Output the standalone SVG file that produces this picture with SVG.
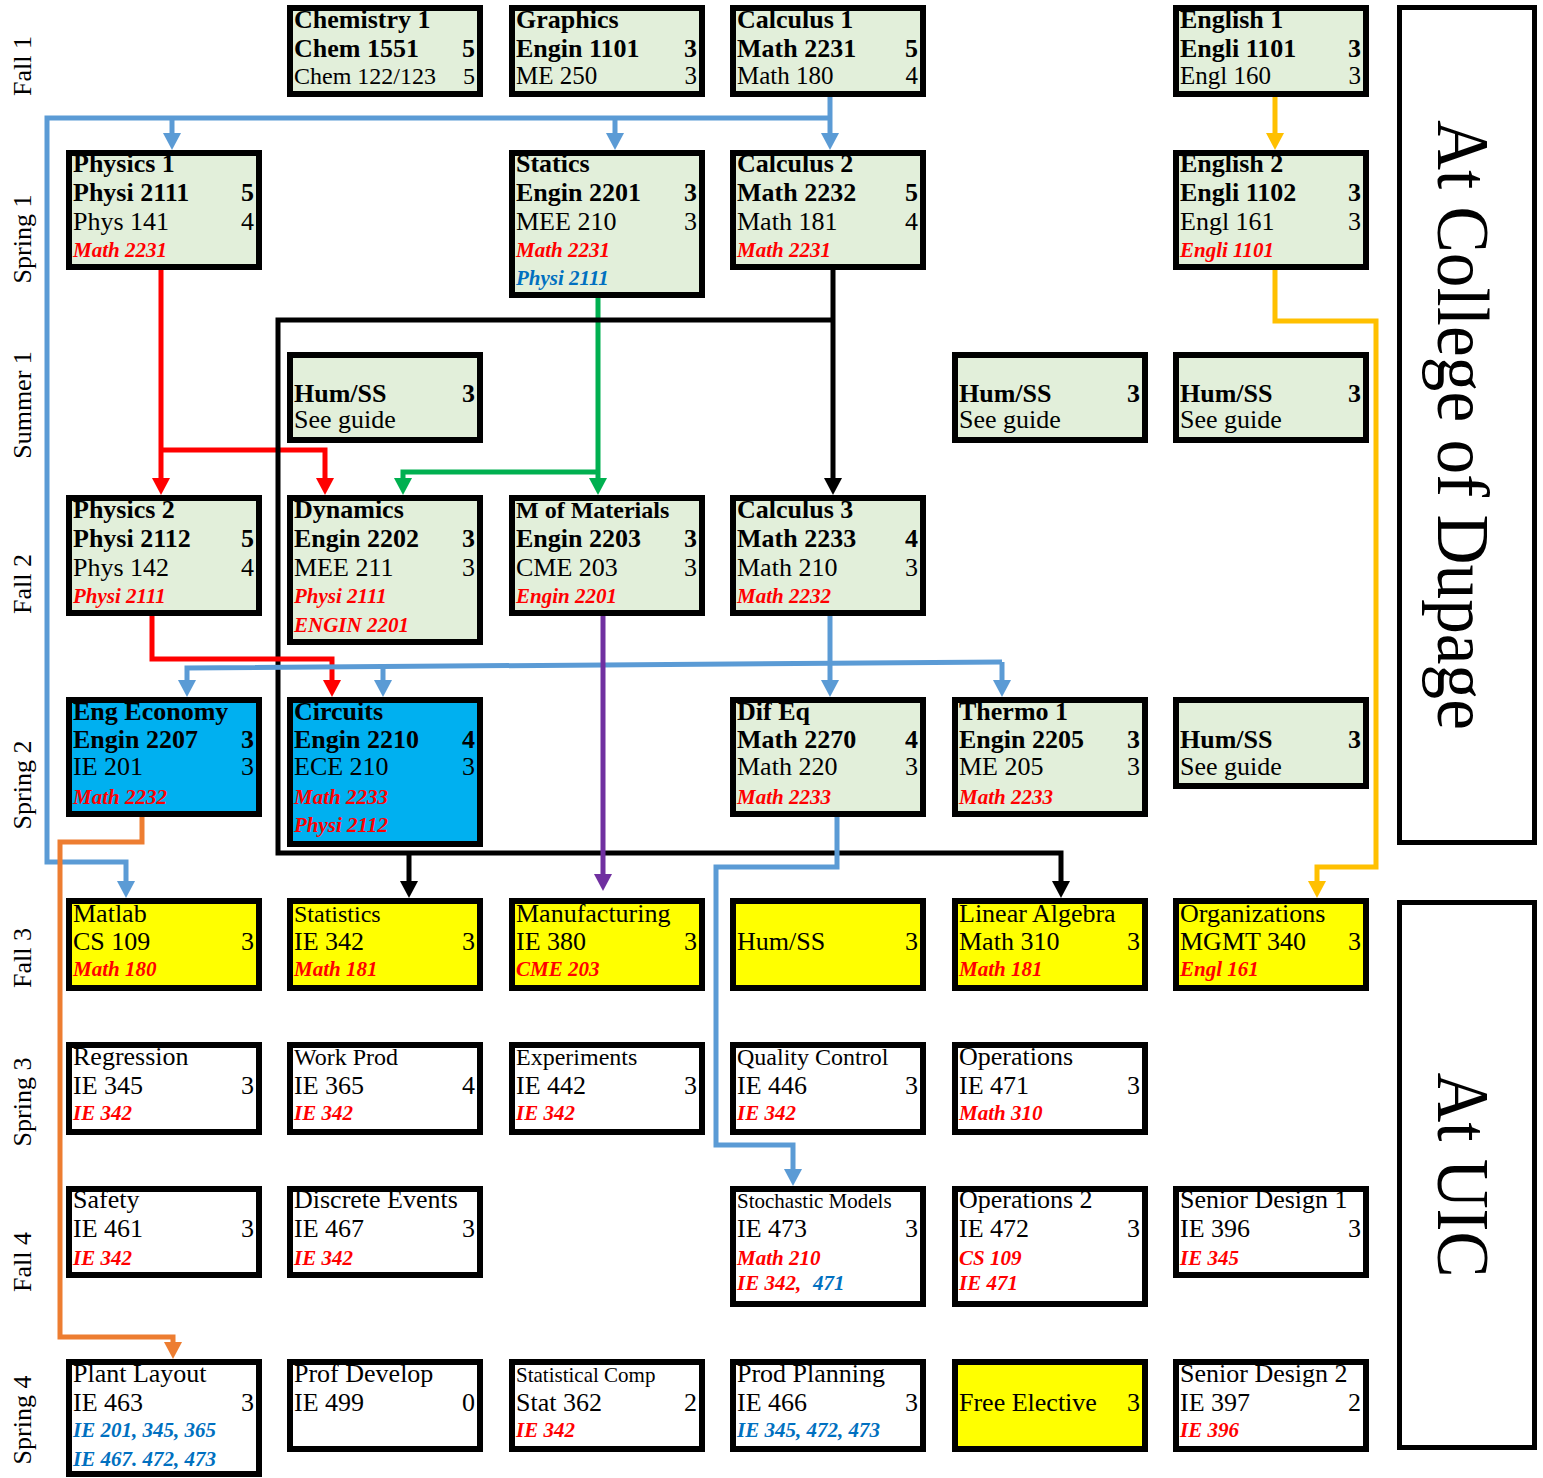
<svg xmlns="http://www.w3.org/2000/svg" width="1543" height="1478" viewBox="0 0 1543 1478">
<defs>
<style>
text{font-family:"Liberation Serif","Times New Roman",serif;fill:#000}
.g{fill:#E2EFDA;stroke:#000;stroke-width:6}
.bl{fill:#00B0F0;stroke:#000;stroke-width:6}
.y{fill:#FFFF00;stroke:#000;stroke-width:6}
.w{fill:#FFFFFF;stroke:#000;stroke-width:6}
.lab{fill:#FFFFFF;stroke:#000;stroke-width:5}
.h{font-size:26px;font-weight:bold}
.r{font-size:26px}
.r5{font-size:25px}
.s{font-size:24px}
.xs{font-size:21px}
.n{text-anchor:end}
.p{font-size:21px;font-weight:bold;font-style:italic;fill:#FF0000}
.q{font-size:21px;font-weight:bold;font-style:italic;fill:#0070C0}
.sem{font-size:26px;text-anchor:middle}
.big{font-size:75px;text-anchor:middle}
.ln{fill:none;stroke-width:5;stroke-linejoin:miter}
.cb{stroke:#5B9BD5}
.cr{stroke:#FF0000}
.cg{stroke:#00B050}
.ck{stroke:#000000}
.co{stroke:#ED7D31}
.cy{stroke:#FFC000}
.cp{stroke:#7030A0}
</style>
<marker id="aB" markerUnits="userSpaceOnUse" markerWidth="17" markerHeight="18" viewBox="0 0 17 18" refX="0" refY="9" orient="auto"><path d="M0,0 L17,9 L0,18 z" fill="#5B9BD5"/></marker>
<marker id="aR" markerUnits="userSpaceOnUse" markerWidth="17" markerHeight="18" viewBox="0 0 17 18" refX="0" refY="9" orient="auto"><path d="M0,0 L17,9 L0,18 z" fill="#FF0000"/></marker>
<marker id="aG" markerUnits="userSpaceOnUse" markerWidth="17" markerHeight="18" viewBox="0 0 17 18" refX="0" refY="9" orient="auto"><path d="M0,0 L17,9 L0,18 z" fill="#00B050"/></marker>
<marker id="aK" markerUnits="userSpaceOnUse" markerWidth="17" markerHeight="18" viewBox="0 0 17 18" refX="0" refY="9" orient="auto"><path d="M0,0 L17,9 L0,18 z" fill="#000000"/></marker>
<marker id="aO" markerUnits="userSpaceOnUse" markerWidth="17" markerHeight="18" viewBox="0 0 17 18" refX="0" refY="9" orient="auto"><path d="M0,0 L17,9 L0,18 z" fill="#ED7D31"/></marker>
<marker id="aY" markerUnits="userSpaceOnUse" markerWidth="17" markerHeight="18" viewBox="0 0 17 18" refX="0" refY="9" orient="auto"><path d="M0,0 L17,9 L0,18 z" fill="#FFC000"/></marker>
<marker id="aP" markerUnits="userSpaceOnUse" markerWidth="17" markerHeight="18" viewBox="0 0 17 18" refX="0" refY="9" orient="auto"><path d="M0,0 L17,9 L0,18 z" fill="#7030A0"/></marker>
</defs>
<rect x="0" y="0" width="1543" height="1478" fill="#FFFFFF"/>

<g id="semesters">
<text class="sem" transform="translate(31,66) rotate(-90)">Fall 1</text>
<text class="sem" transform="translate(31,239) rotate(-90)">Spring 1</text>
<text class="sem" transform="translate(31,405) rotate(-90)">Summer 1</text>
<text class="sem" transform="translate(31,584) rotate(-90)">Fall 2</text>
<text class="sem" transform="translate(31,785) rotate(-90)">Spring 2</text>
<text class="sem" transform="translate(31,958) rotate(-90)">Fall 3</text>
<text class="sem" transform="translate(31,1102) rotate(-90)">Spring 3</text>
<text class="sem" transform="translate(31,1262) rotate(-90)">Fall 4</text>
<text class="sem" transform="translate(31,1420) rotate(-90)">Spring 4</text>
</g>

<g id="label-cod">
<rect class="lab" x="1399.5" y="7.5" width="135" height="835"/>
<text class="big" transform="translate(1438,425) rotate(90)" textLength="610" lengthAdjust="spacingAndGlyphs">At College of Dupage</text>
</g>
<g id="label-uic">
<rect class="lab" x="1399.5" y="902.5" width="135" height="545"/>
<text class="big" transform="translate(1438,1175) rotate(90)" textLength="205" lengthAdjust="spacingAndGlyphs">At UIC</text>
</g>

<!-- Fall 1 -->
<g id="chemistry1">
<rect class="g" x="290" y="8" width="190" height="86"/>
<text class="h" x="294" y="28">Chemistry 1</text>
<text class="h" x="294" y="57">Chem 1551</text><text class="h n" x="475" y="57">5</text>
<text class="s" x="294" y="84">Chem 122/123</text><text class="s n" x="475" y="84">5</text>
</g>
<g id="graphics">
<rect class="g" x="512" y="8" width="190" height="86"/>
<text class="h" x="516" y="28">Graphics</text>
<text class="h" x="516" y="57">Engin 1101</text><text class="h n" x="697" y="57">3</text>
<text class="r5" x="516" y="84">ME 250</text><text class="r5 n" x="697" y="84">3</text>
</g>
<g id="calculus1">
<rect class="g" x="733" y="8" width="190" height="86"/>
<text class="h" x="737" y="28">Calculus 1</text>
<text class="h" x="737" y="57">Math 2231</text><text class="h n" x="918" y="57">5</text>
<text class="r5" x="737" y="84">Math 180</text><text class="r5 n" x="918" y="84">4</text>
</g>
<g id="english1">
<rect class="g" x="1176" y="8" width="190" height="86"/>
<text class="h" x="1180" y="28">English 1</text>
<text class="h" x="1180" y="57">Engli 1101</text><text class="h n" x="1361" y="57">3</text>
<text class="r5" x="1180" y="84">Engl 160</text><text class="r5 n" x="1361" y="84">3</text>
</g>

<!-- Spring 1 -->
<g id="physics1">
<rect class="g" x="69" y="153" width="190" height="114"/>
<text class="h" x="73" y="172">Physics 1</text>
<text class="h" x="73" y="201">Physi 2111</text><text class="h n" x="254" y="201">5</text>
<text class="r" x="73" y="230">Phys 141</text><text class="r n" x="254" y="230">4</text>
<text class="p" x="73" y="257">Math 2231</text>
</g>
<g id="statics">
<rect class="g" x="512" y="153" width="190" height="142"/>
<text class="h" x="516" y="172">Statics</text>
<text class="h" x="516" y="201">Engin 2201</text><text class="h n" x="697" y="201">3</text>
<text class="r" x="516" y="230">MEE 210</text><text class="r n" x="697" y="230">3</text>
<text class="p" x="516" y="257">Math 2231</text>
<text class="q" x="516" y="285">Physi 2111</text>
</g>
<g id="calculus2">
<rect class="g" x="733" y="153" width="190" height="114"/>
<text class="h" x="737" y="172">Calculus 2</text>
<text class="h" x="737" y="201">Math 2232</text><text class="h n" x="918" y="201">5</text>
<text class="r" x="737" y="230">Math 181</text><text class="r n" x="918" y="230">4</text>
<text class="p" x="737" y="257">Math 2231</text>
</g>
<g id="english2">
<rect class="g" x="1176" y="153" width="190" height="114"/>
<text class="h" x="1180" y="172">English 2</text>
<text class="h" x="1180" y="201">Engli 1102</text><text class="h n" x="1361" y="201">3</text>
<text class="r" x="1180" y="230">Engl 161</text><text class="r n" x="1361" y="230">3</text>
<text class="p" x="1180" y="257">Engli 1101</text>
</g>

<!-- Summer 1 -->
<g id="humss-summer-a">
<rect class="g" x="290" y="355" width="190" height="85"/>
<text class="h" x="294" y="402">Hum/SS</text><text class="h n" x="475" y="402">3</text>
<text class="r" x="294" y="428">See guide</text>
</g>
<g id="humss-summer-b">
<rect class="g" x="955" y="355" width="190" height="85"/>
<text class="h" x="959" y="402">Hum/SS</text><text class="h n" x="1140" y="402">3</text>
<text class="r" x="959" y="428">See guide</text>
</g>
<g id="humss-summer-c">
<rect class="g" x="1176" y="355" width="190" height="85"/>
<text class="h" x="1180" y="402">Hum/SS</text><text class="h n" x="1361" y="402">3</text>
<text class="r" x="1180" y="428">See guide</text>
</g>

<!-- Fall 2 -->
<g id="physics2">
<rect class="g" x="69" y="498" width="190" height="115"/>
<text class="h" x="73" y="518">Physics 2</text>
<text class="h" x="73" y="547">Physi 2112</text><text class="h n" x="254" y="547">5</text>
<text class="r" x="73" y="576">Phys 142</text><text class="r n" x="254" y="576">4</text>
<text class="p" x="73" y="603">Physi 2111</text>
</g>
<g id="dynamics">
<rect class="g" x="290" y="498" width="190" height="144"/>
<text class="h" x="294" y="518">Dynamics</text>
<text class="h" x="294" y="547">Engin 2202</text><text class="h n" x="475" y="547">3</text>
<text class="r" x="294" y="576">MEE 211</text><text class="r n" x="475" y="576">3</text>
<text class="p" x="294" y="603">Physi 2111</text>
<text class="p" x="294" y="632">ENGIN 2201</text>
</g>
<g id="mofmaterials">
<rect class="g" x="512" y="498" width="190" height="115"/>
<text class="h" x="516" y="518" style="font-size:24px">M of Materials</text>
<text class="h" x="516" y="547">Engin 2203</text><text class="h n" x="697" y="547">3</text>
<text class="r" x="516" y="576">CME 203</text><text class="r n" x="697" y="576">3</text>
<text class="p" x="516" y="603">Engin 2201</text>
</g>
<g id="calculus3">
<rect class="g" x="733" y="498" width="190" height="115"/>
<text class="h" x="737" y="518">Calculus 3</text>
<text class="h" x="737" y="547">Math 2233</text><text class="h n" x="918" y="547">4</text>
<text class="r" x="737" y="576">Math 210</text><text class="r n" x="918" y="576">3</text>
<text class="p" x="737" y="603">Math 2232</text>
</g>

<!-- Spring 2 -->
<g id="engeconomy">
<rect class="bl" x="69" y="700" width="190" height="114"/>
<text class="h" x="73" y="720">Eng Economy</text>
<text class="h" x="73" y="748">Engin 2207</text><text class="h n" x="254" y="748">3</text>
<text class="r" x="73" y="775">IE 201</text><text class="r n" x="254" y="775">3</text>
<text class="p" x="73" y="804">Math 2232</text>
</g>
<g id="circuits">
<rect class="bl" x="290" y="700" width="190" height="144"/>
<text class="h" x="294" y="720">Circuits</text>
<text class="h" x="294" y="748">Engin 2210</text><text class="h n" x="475" y="748">4</text>
<text class="r" x="294" y="775">ECE 210</text><text class="r n" x="475" y="775">3</text>
<text class="p" x="294" y="804">Math 2233</text>
<text class="p" x="294" y="832">Physi 2112</text>
</g>
<g id="difeq">
<rect class="g" x="733" y="700" width="190" height="114"/>
<text class="h" x="737" y="720">Dif Eq</text>
<text class="h" x="737" y="748">Math 2270</text><text class="h n" x="918" y="748">4</text>
<text class="r" x="737" y="775">Math 220</text><text class="r n" x="918" y="775">3</text>
<text class="p" x="737" y="804">Math 2233</text>
</g>
<g id="thermo1">
<rect class="g" x="955" y="700" width="190" height="114"/>
<text class="h" x="959" y="720">Thermo 1</text>
<text class="h" x="959" y="748">Engin 2205</text><text class="h n" x="1140" y="748">3</text>
<text class="r" x="959" y="775">ME 205</text><text class="r n" x="1140" y="775">3</text>
<text class="p" x="959" y="804">Math 2233</text>
</g>
<g id="humss-spring2">
<rect class="g" x="1176" y="700" width="190" height="86"/>
<text class="h" x="1180" y="748">Hum/SS</text><text class="h n" x="1361" y="748">3</text>
<text class="r" x="1180" y="775">See guide</text>
</g>

<!-- Fall 3 -->
<g id="matlab">
<rect class="y" x="69" y="901" width="190" height="87"/>
<text class="r" x="73" y="922">Matlab</text>
<text class="r" x="73" y="950">CS 109</text><text class="r n" x="254" y="950">3</text>
<text class="p" x="73" y="976">Math 180</text>
</g>
<g id="statistics">
<rect class="y" x="290" y="901" width="190" height="87"/>
<text class="s" x="294" y="922">Statistics</text>
<text class="r" x="294" y="950">IE 342</text><text class="r n" x="475" y="950">3</text>
<text class="p" x="294" y="976">Math 181</text>
</g>
<g id="manufacturing">
<rect class="y" x="512" y="901" width="190" height="87"/>
<text class="r" x="516" y="922">Manufacturing</text>
<text class="r" x="516" y="950">IE 380</text><text class="r n" x="697" y="950">3</text>
<text class="p" x="516" y="976">CME 203</text>
</g>
<g id="humss-fall3">
<rect class="y" x="733" y="901" width="190" height="87"/>
<text class="r" x="737" y="950">Hum/SS</text><text class="r n" x="918" y="950">3</text>
</g>
<g id="linearalgebra">
<rect class="y" x="955" y="901" width="190" height="87"/>
<text class="r" x="959" y="922">Linear Algebra</text>
<text class="r" x="959" y="950">Math 310</text><text class="r n" x="1140" y="950">3</text>
<text class="p" x="959" y="976">Math 181</text>
</g>
<g id="organizations">
<rect class="y" x="1176" y="901" width="190" height="87"/>
<text class="r" x="1180" y="922">Organizations</text>
<text class="r" x="1180" y="950">MGMT 340</text><text class="r n" x="1361" y="950">3</text>
<text class="p" x="1180" y="976">Engl 161</text>
</g>

<!-- Spring 3 -->
<g id="regression">
<rect class="w" x="69" y="1045" width="190" height="87"/>
<text class="r" x="73" y="1065">Regression</text>
<text class="r" x="73" y="1094">IE 345</text><text class="r n" x="254" y="1094">3</text>
<text class="p" x="73" y="1120">IE 342</text>
</g>
<g id="workprod">
<rect class="w" x="290" y="1045" width="190" height="87"/>
<text class="s" x="294" y="1065">Work Prod</text>
<text class="r" x="294" y="1094">IE 365</text><text class="r n" x="475" y="1094">4</text>
<text class="p" x="294" y="1120">IE 342</text>
</g>
<g id="experiments">
<rect class="w" x="512" y="1045" width="190" height="87"/>
<text class="s" x="516" y="1065">Experiments</text>
<text class="r" x="516" y="1094">IE 442</text><text class="r n" x="697" y="1094">3</text>
<text class="p" x="516" y="1120">IE 342</text>
</g>
<g id="qualitycontrol">
<rect class="w" x="733" y="1045" width="190" height="87"/>
<text class="s" x="737" y="1065">Quality Control</text>
<text class="r" x="737" y="1094">IE 446</text><text class="r n" x="918" y="1094">3</text>
<text class="p" x="737" y="1120">IE 342</text>
</g>
<g id="operations">
<rect class="w" x="955" y="1045" width="190" height="87"/>
<text class="r" x="959" y="1065">Operations</text>
<text class="r" x="959" y="1094">IE 471</text><text class="r n" x="1140" y="1094">3</text>
<text class="p" x="959" y="1120">Math 310</text>
</g>

<!-- Fall 4 -->
<g id="safety">
<rect class="w" x="69" y="1189" width="190" height="86"/>
<text class="r" x="73" y="1208">Safety</text>
<text class="r" x="73" y="1237">IE 461</text><text class="r n" x="254" y="1237">3</text>
<text class="p" x="73" y="1265">IE 342</text>
</g>
<g id="discreteevents">
<rect class="w" x="290" y="1189" width="190" height="86"/>
<text class="r" x="294" y="1208">Discrete Events</text>
<text class="r" x="294" y="1237">IE 467</text><text class="r n" x="475" y="1237">3</text>
<text class="p" x="294" y="1265">IE 342</text>
</g>
<g id="stochastic">
<rect class="w" x="733" y="1189" width="190" height="115"/>
<text class="xs" x="737" y="1208">Stochastic Models</text>
<text class="r" x="737" y="1237">IE 473</text><text class="r n" x="918" y="1237">3</text>
<text class="p" x="737" y="1265">Math 210</text>
<text class="p" x="737" y="1290">IE 342,<tspan class="q" x="813">471</tspan></text>
</g>
<g id="operations2">
<rect class="w" x="955" y="1189" width="190" height="115"/>
<text class="r" x="959" y="1208">Operations 2</text>
<text class="r" x="959" y="1237">IE 472</text><text class="r n" x="1140" y="1237">3</text>
<text class="p" x="959" y="1265">CS 109</text>
<text class="p" x="959" y="1290">IE 471</text>
</g>
<g id="seniordesign1">
<rect class="w" x="1176" y="1189" width="190" height="86"/>
<text class="r" x="1180" y="1208">Senior Design 1</text>
<text class="r" x="1180" y="1237">IE 396</text><text class="r n" x="1361" y="1237">3</text>
<text class="p" x="1180" y="1265">IE 345</text>
</g>

<!-- Spring 4 -->
<g id="plantlayout">
<rect class="w" x="69" y="1362" width="190" height="112"/>
<text class="r" x="73" y="1382">Plant Layout</text>
<text class="r" x="73" y="1411">IE 463</text><text class="r n" x="254" y="1411">3</text>
<text class="q" x="73" y="1437">IE 201, 345, 365</text>
<text class="q" x="73" y="1466">IE 467. 472, 473</text>
</g>
<g id="profdevelop">
<rect class="w" x="290" y="1362" width="190" height="87"/>
<text class="r" x="294" y="1382">Prof Develop</text>
<text class="r" x="294" y="1411">IE 499</text><text class="r n" x="475" y="1411">0</text>
</g>
<g id="statisticalcomp">
<rect class="w" x="512" y="1362" width="190" height="87"/>
<text class="xs" x="516" y="1382">Statistical Comp</text>
<text class="r" x="516" y="1411">Stat 362</text><text class="r n" x="697" y="1411">2</text>
<text class="p" x="516" y="1437">IE 342</text>
</g>
<g id="prodplanning">
<rect class="w" x="733" y="1362" width="190" height="87"/>
<text class="r" x="737" y="1382">Prod Planning</text>
<text class="r" x="737" y="1411">IE 466</text><text class="r n" x="918" y="1411">3</text>
<text class="q" x="737" y="1437">IE 345, 472, 473</text>
</g>
<g id="freeelective">
<rect class="y" x="955" y="1362" width="190" height="87"/>
<text class="r" x="959" y="1411">Free Elective</text><text class="r n" x="1140" y="1411">3</text>
</g>
<g id="seniordesign2">
<rect class="w" x="1176" y="1362" width="190" height="87"/>
<text class="r" x="1180" y="1382">Senior Design 2</text>
<text class="r" x="1180" y="1411">IE 397</text><text class="r n" x="1361" y="1411">2</text>
<text class="p" x="1180" y="1437">IE 396</text>
</g>

<g id="connectors">
<path class="ln cb" d="M830,97 V133" marker-end="url(#aB)"/>
<path class="ln cb" d="M830,118 H47 V862 H126 V881" marker-end="url(#aB)"/>
<path class="ln cb" d="M172,118 V133" marker-end="url(#aB)"/>
<path class="ln cb" d="M615,118 V133" marker-end="url(#aB)"/>
<path class="ln cr" d="M161,270 V478" marker-end="url(#aR)"/>
<path class="ln cr" d="M161,450 H325 V478" marker-end="url(#aR)"/>
<path class="ln cg" d="M598,298 V478" marker-end="url(#aG)"/>
<path class="ln cg" d="M598,472 H403 V478" marker-end="url(#aG)"/>
<path class="ln ck" d="M833,270 V478" marker-end="url(#aK)"/>
<path class="ln ck" d="M833,320 H278 V853 H1061 V881" marker-end="url(#aK)"/>
<path class="ln ck" d="M409,853 V881" marker-end="url(#aK)"/>
<path class="ln cr" d="M152,616 V659 H332 V680" marker-end="url(#aR)"/>
<path class="ln cb" d="M830,616 V680" marker-end="url(#aB)"/>
<path class="ln cb" d="M1002,662 L187,668 V680" marker-end="url(#aB)"/>
<path class="ln cb" d="M383,667 V680" marker-end="url(#aB)"/>
<path class="ln cb" d="M1002,662 V680" marker-end="url(#aB)"/>
<path class="ln cp" d="M603,616 V874" marker-end="url(#aP)"/>
<path class="ln co" d="M142,817 V842 H60 V1337 H173 V1342" marker-end="url(#aO)"/>
<path class="ln cb" d="M837,817 V867 H716 V1145 H793 V1169" marker-end="url(#aB)"/>
<path class="ln cy" d="M1275,97 V133" marker-end="url(#aY)"/>
<path class="ln cy" d="M1275,270 V321 H1376 V867 H1317 V881" marker-end="url(#aY)"/>
</g>
</svg>
